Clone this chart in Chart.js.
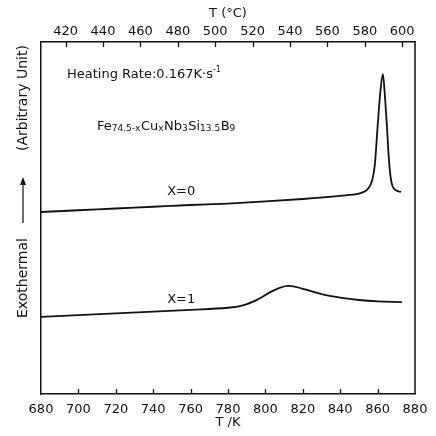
<!DOCTYPE html>
<html>
<head>
<meta charset="utf-8">
<script src="https://cdn.jsdelivr.net/npm/chart.js@4.4.1/dist/chart.umd.min.js"></script>
<style>
    html, body { margin: 0; padding: 0; background: #fff; }
    #wrap { width: 436px; height: 436px; }
</style>
</head>
<body>
<div id="wrap"><canvas id="dscChart"></canvas></div>
<script>
// DSC traces, temperature in K vs. heat flow (arbitrary units)
const kelvinX0 = [680, 700, 720, 740, 760, 780, 800, 820, 840, 850, 853, 855, 857, 858.5, 860, 861.5, 862.8, 864, 865, 866, 867, 868, 870, 872.5];
const signalX0 = [51.7, 52.2, 52.7, 53.2, 53.7, 54.1, 54.7, 55.4, 56.3, 56.9, 57.5, 58.4, 60.5, 65, 76, 86, 90.9, 84, 76, 67, 61.5, 59, 57.8, 57.4];

const kelvinX1 = [680, 720, 760, 780, 788, 796, 804, 812, 820, 830, 840, 850, 860, 873];
const signalX1 = [21.9, 22.9, 23.9, 24.5, 25.2, 26.9, 29.3, 30.7, 29.9, 28.4, 27.4, 26.7, 26.3, 26.1];

const kelvinTicks = [680, 700, 720, 740, 760, 780, 800, 820, 840, 860, 880];
const celsiusTicks = [420, 440, 460, 480, 500, 520, 540, 560, 580, 600];

const INK = '#111';
const FONT = '"DejaVu Sans", sans-serif';

function toPoints(xs, ys) {
    return xs.map((x, i) => ({ x: x, y: ys[i] }));
}

// inward tick marks, right frame edge, annotations and the rotated y label
const decorations = {
    id: 'decorations',
    afterDraw(chart) {
        const ctx = chart.ctx;
        const area = chart.chartArea;
        const xs = chart.scales.x;
        const xt = chart.scales.x2;

        ctx.save();
        ctx.strokeStyle = INK;
        ctx.lineWidth = 1.3;
        ctx.beginPath();
        kelvinTicks.slice(1, -1).forEach(v => {
            const px = Math.round(xs.getPixelForValue(v)) + 0.5;
            ctx.moveTo(px, area.bottom);
            ctx.lineTo(px, area.bottom - 5);
        });
        celsiusTicks.forEach(v => {
            const px = Math.round(xt.getPixelForValue(v)) + 0.5;
            ctx.moveTo(px, area.top);
            ctx.lineTo(px, area.top + 5);
        });
        ctx.stroke();

        ctx.lineWidth = 1.5;
        ctx.beginPath();
        ctx.moveTo(area.right, area.top);
        ctx.lineTo(area.right, area.bottom);
        ctx.stroke();

        ctx.fillStyle = INK;
        ctx.textBaseline = 'middle';

        // heating rate
        ctx.textAlign = 'left';
        ctx.font = '13px ' + FONT;
        let x = area.left + 26;
        const rate = 'Heating Rate:0.167K\u00b7s';
        ctx.fillText(rate, x, 75);
        x += ctx.measureText(rate).width;
        ctx.font = '8px ' + FONT;
        ctx.fillText('-1', x, 70);

        // alloy composition with subscripts
        const parts = [['Fe', 0], ['74.5-x', 1], ['Cu', 0], ['x', 1], ['Nb', 0], ['3', 1], ['Si', 0], ['13.5', 1], ['B', 0], ['9', 1]];
        x = area.left + 56;
        parts.forEach(([t, sub]) => {
            ctx.font = (sub ? '9px ' : '13px ') + FONT;
            ctx.fillText(t, x, sub ? 129 : 127);
            x += ctx.measureText(t).width + (sub ? 0.5 : 0);
        });

        // curve labels
        ctx.textAlign = 'center';
        ctx.font = '13px ' + FONT;
        ctx.fillText('X=0', xs.getPixelForValue(755), 192);
        ctx.fillText('X=1', xs.getPixelForValue(755), 300);

        // y axis label, written bottom to top
        ctx.translate(23, 0);
        ctx.rotate(-Math.PI / 2);
        ctx.textAlign = 'left';
        ctx.font = '14px ' + FONT;
        ctx.fillText('Exothermal', -318, 0);
        ctx.lineWidth = 1.2;
        ctx.beginPath();
        ctx.moveTo(-223, 0);
        ctx.lineTo(-180, 0);
        ctx.stroke();
        ctx.beginPath();
        ctx.moveTo(-177, 0);
        ctx.lineTo(-185, -3);
        ctx.lineTo(-185, 3);
        ctx.closePath();
        ctx.fill();
        ctx.fillText('(Arbitrary Unit)', -151, 0);
        ctx.restore();
    }
};

const ctx = document.getElementById('dscChart').getContext('2d');
new Chart(ctx, {
    type: 'line',
    data: {
        datasets: [{
            label: 'X=0',
            data: toPoints(kelvinX0, signalX0),
            borderColor: INK,
            borderWidth: 1.8,
            pointRadius: 0,
            fill: false,
            cubicInterpolationMode: 'monotone'
        }, {
            label: 'X=1',
            data: toPoints(kelvinX1, signalX1),
            borderColor: INK,
            borderWidth: 1.8,
            pointRadius: 0,
            fill: false,
            tension: 0.4
        }]
    },
    options: {
        responsive: true,
        maintainAspectRatio: false,
        animation: false,
        layout: {
            padding: { left: 0, right: 21, top: 0, bottom: 0 }
        },
        plugins: {
            legend: { display: false },
            tooltip: { enabled: false }
        },
        scales: {
            x: {
                type: 'linear',
                position: 'bottom',
                min: 680,
                max: 880,
                afterBuildTicks: s => { s.ticks = kelvinTicks.map(v => ({ value: v })); },
                afterFit: s => { s.height = 42; },
                ticks: {
                    color: INK,
                    font: { family: FONT, size: 13 },
                    padding: 8,
                    maxRotation: 0
                },
                grid: { drawOnChartArea: false, drawTicks: false },
                border: { color: INK, width: 1.5 },
                title: {
                    display: true,
                    text: 'T /K',
                    color: INK,
                    font: { family: FONT, size: 13 },
                    padding: { top: 0, bottom: 6 }
                }
            },
            x2: {
                type: 'linear',
                position: 'top',
                min: 680 - 273.15,
                max: 880 - 273.15,
                afterBuildTicks: s => { s.ticks = celsiusTicks.map(v => ({ value: v })); },
                afterFit: s => { s.height = 42; },
                ticks: {
                    color: INK,
                    font: { family: FONT, size: 13 },
                    padding: 3,
                    maxRotation: 0
                },
                grid: { drawOnChartArea: false, drawTicks: false },
                border: { color: INK, width: 1.5 },
                title: {
                    display: true,
                    text: 'T (\u00b0C)',
                    color: INK,
                    font: { family: FONT, size: 13 },
                    padding: { top: 6, bottom: 0 }
                }
            },
            y: {
                type: 'linear',
                min: 0,
                max: 100,
                afterFit: s => { s.width = 41; },
                ticks: { display: false },
                grid: { drawOnChartArea: false, drawTicks: false },
                border: { color: INK, width: 1.5 }
            }
        }
    },
    plugins: [decorations]
});
</script>
</body>
</html>
